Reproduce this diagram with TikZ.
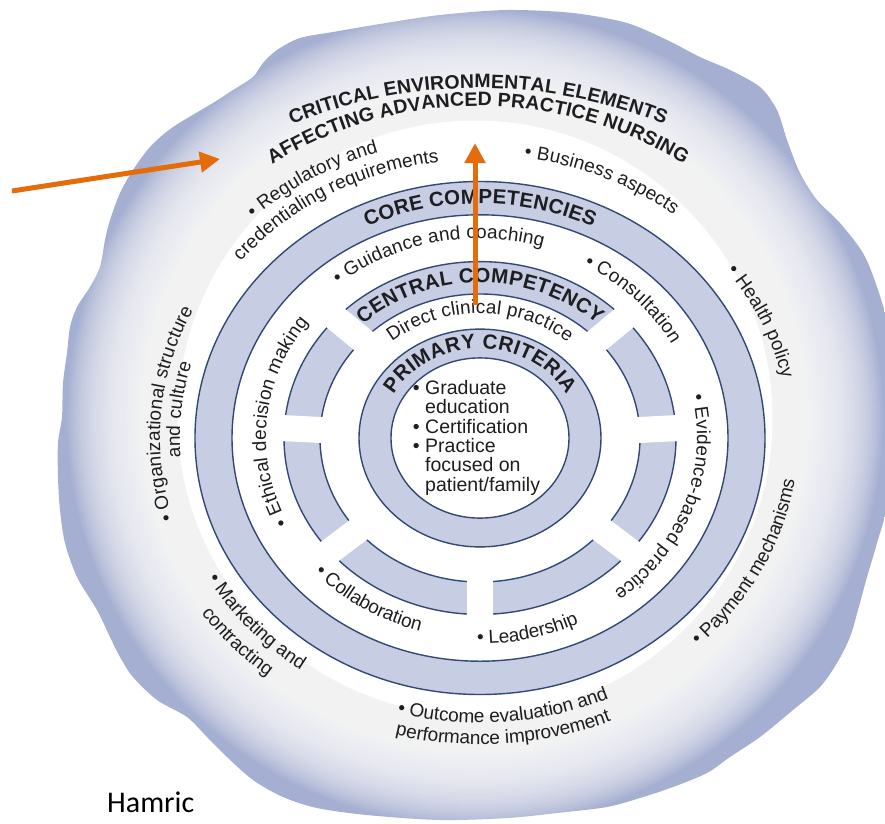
\documentclass[tikz,border=0pt]{standalone}
\usepackage{fontspec}
\setmainfont{Liberation Sans}
\newfontfamily\hamricfont{Carlito}
\usepackage{tikz}
\usetikzlibrary{arrows.meta, decorations.text}

\definecolor{bandblue}{RGB}{199,206,228}
\definecolor{bandline}{RGB}{52,72,118}
\definecolor{cloudblue}{RGB}{165,175,209}
\definecolor{arroworange}{RGB}{228,108,10}
\definecolor{inkgray}{RGB}{30,30,34}

\newcommand{\ringfont}{\fontsize{19}{21}\selectfont}
\newcommand{\ringhead}{\fontsize{20.5}{22}\selectfont\bfseries}
\newcommand{\titlefont}{\fontsize{19.5}{21}\selectfont\bfseries}

% curved label on an ellipse round the centre: font, x radius, start angle, end angle, text
\newcommand{\ringtext}[5]{%
  \path[decorate, decoration={text along path, text align=center, raise=4pt, text={|#1\color{inkgray}|#5}}]
    ({#2*cos(#3)}, {0.9*#2*sin(#3)}) arc[start angle=#3, end angle=#4, x radius=#2, y radius=0.9*#2];
}

\begin{document}
\begin{tikzpicture}[x=1pt, y=1pt,
    band/.style={fill=bandblue, even odd rule},
    bandedge/.style={draw=bandline, line width=1.4pt},
    spoke/.style={draw=white, line width=26pt},
    pointer/.style={draw=arroworange, line width=5pt, -{Triangle[length=20pt, width=20pt]}}
  ]

  \useasboundingbox (-480,-385) rectangle (405,438);

  % Cloud, blue at the rim and white towards the middle
  \begin{scope}
    \clip plot[smooth cycle, tension=0.5] coordinates {
      (-100,414) (-40,423) (27,428) (93,425) (147,415) (187,398) (220,381) (250,368)
      (280,351) (297,328) (307,298) (320,265) (337,238) (360,215) (383,185) (397,151)
      (408,108) (412,18) (408,-62) (397,-105) (387,-139) (378,-172) (370,-199) (357,-225)
      (340,-249) (313,-272) (280,-299) (250,-319) (227,-335) (193,-349) (160,-360) (127,-369)
      (77,-375) (27,-380) (-40,-382) (-113,-377) (-163,-370) (-197,-359) (-227,-342) (-253,-319)
      (-273,-299) (-293,-279) (-323,-262) (-347,-239) (-360,-219) (-370,-199) (-383,-172) (-403,-139)
      (-415,-105) (-420,-72) (-422,-39) (-422,-5) (-418,21) (-417,55) (-413,85) (-410,111)
      (-403,131) (-390,151) (-380,171) (-375,198) (-370,218) (-360,245) (-347,268) (-330,291)
      (-307,311) (-267,335) (-247,348) (-227,361) (-217,375) (-203,388) (-180,400) (-147,406)};
    \fill[cloudblue] (-480,-400) rectangle (420,440);
    \foreach \r in {297.5,300,...,407.5}
      \fill[white, opacity=0.075] (-5,20) circle[radius=\r];
    \fill[white] (-5,20) circle[radius=297.5];
  \end{scope}

  % Rings
  \fill[band] (0,0) ellipse[x radius=285, y radius=256.5] (0,0) ellipse[x radius=248, y radius=223.2];
  \draw[bandedge] (0,0) ellipse[x radius=285, y radius=256.5] (0,0) ellipse[x radius=248, y radius=223.2];
  \fill[band] (0,0) ellipse[x radius=196, y radius=176.4] (0,0) ellipse[x radius=160, y radius=144];
  \draw[bandedge] (0,0) ellipse[x radius=196, y radius=176.4] (0,0) ellipse[x radius=160, y radius=144];
  \foreach \ang in {3.2, 42.75, 137.25, 176.8, 220, 270, 320}
    \draw[spoke] ({150*cos(\ang)}, {135*sin(\ang)}) -- ({206*cos(\ang)}, {185.4*sin(\ang)});
  \fill[band] (0,0) ellipse[x radius=121, y radius=108.9] (0,0) ellipse[x radius=89, y radius=80.1];
  \draw[bandedge] (0,0) ellipse[x radius=121, y radius=108.9] (0,0) ellipse[x radius=89, y radius=80.1];

  % Environment labels
  \path[decorate, decoration={text along path, text align=center, raise=5pt,
      text={|\titlefont\color{inkgray}|CRITICAL ENVIRONMENTAL ELEMENTS}}]
    (-2,-142) ++(130:487) arc[start angle=130, end angle=50, radius=487];
  \path[decorate, decoration={text along path, text align=center, raise=5pt,
      text={|\titlefont\color{inkgray}|AFFECTING ADVANCED PRACTICE NURSING}}]
    (-2,-60) ++(135:387) arc[start angle=135, end angle=45, radius=387];
  \ringtext{\ringfont}{329}{182.2}{62.2}{• Regulatory and}
  \ringtext{\ringfont}{305}{180.8}{60.8}{credentialing requirements}
  \ringtext{\ringfont}{310}{125.4}{5.4}{• Business aspects}
  \ringtext{\ringfont}{305}{83}{-37}{• Health policy}
  \ringtext{\ringfont}{322}{-86}{34}{• Payment mechanisms}
  \ringtext{\ringfont}{321}{214.7}{334.7}{• Outcome evaluation and}
  \ringtext{\ringfont}{345}{214.4}{334.4}{performance improvement}
  \ringtext{\ringfont}{318}{160.5}{280.5}{• Marketing and}
  \ringtext{\ringfont}{344}{161}{281}{contracting}
  \ringtext{\ringfont}{316}{235.4}{115.4}{• Organizational structure}
  \ringtext{\ringfont}{296}{234.5}{114.5}{and culture}

  % Competency labels
  \ringtext{\ringhead}{256}{150}{30}{CORE COMPETENCIES}
  \ringtext{\ringfont}{210}{235}{115}{• Ethical decision making}
  \ringtext{\ringfont}{217}{162.3}{42.3}{• Guidance and coaching}
  \ringtext{\ringfont}{214}{102.9}{-17.1}{• Consultation}
  \ringtext{\ringfont}{213}{41.2}{-78.8}{• Evidence-based practice}
  \ringtext{\ringfont}{227}{176.5}{296.5}{• Collaboration}
  \ringtext{\ringfont}{233}{223.3}{343.3}{• Leadership}
  \ringtext{\ringhead}{168}{160}{20}{CENTRAL COMPETENCY}
  \ringtext{\ringfont}{134}{160}{20}{Direct clinical practice}
  \ringtext{\ringhead}{95}{175}{5}{PRIMARY CRITERIA}

  % Nodes
  \node[anchor=north west, inner sep=0pt, align=left, text=inkgray,
    font=\fontsize{19.5}{19.4}\selectfont] (criteria) at (-67.4,58)
    {\makebox[12.4pt][l]{•}Graduate\\ \hspace*{12.4pt}education\\
     \makebox[12.4pt][l]{•}Certification\\ \makebox[12.4pt][l]{•}Practice\\
     \hspace*{12.4pt}focused on\\ \hspace*{12.4pt}patient/family};
  \node[anchor=base west, inner sep=0pt, font=\hamricfont\fontsize{30}{32}\selectfont] (source) at (-373,-374) {Hamric};

  % Pointers
  \coordinate (sideTail) at (-468,247);
  \coordinate (sideTip) at (-260,279);
  \coordinate (upTail) at (-5,133);
  \coordinate (upTip) at (-5,295);
  \draw[pointer] (sideTail) -- (sideTip);
  \draw[pointer] (upTail) -- (upTip);

\end{tikzpicture}
\end{document}
